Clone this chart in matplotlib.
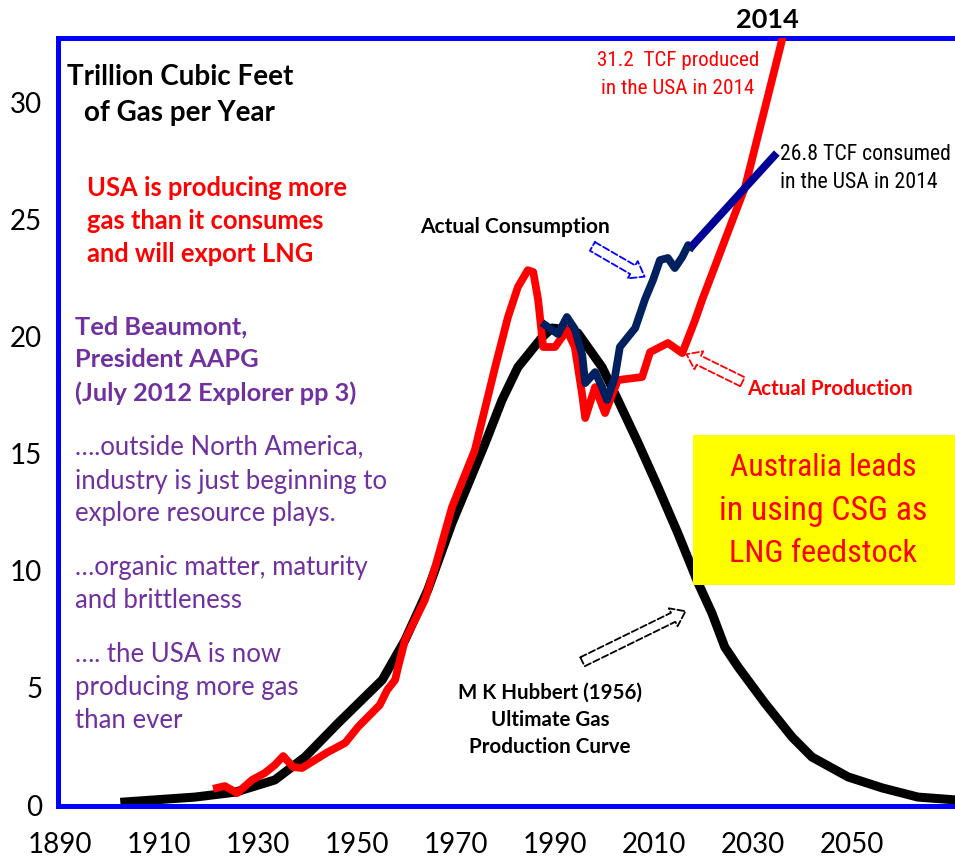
import matplotlib
matplotlib.use("Agg")
import matplotlib.pyplot as plt
from matplotlib import font_manager
from matplotlib.font_manager import FontProperties
from matplotlib.patches import FancyArrowPatch, Rectangle

# Hubbert (1956) ultimate gas production curve, TCF per year
hubbert_year = [1903.1, 1917.3, 1925.4, 1933.4, 1939.5, 1946.2, 1955.1, 1959.7, 1964.3,
                1969.2, 1975.9, 1979.3, 1982.5, 1987.4, 1989.4, 1992.0, 1994.6, 1999.5,
                2002.7, 2006.8, 2010.8, 2014.8, 2018.9, 2021.7, 2024.3, 2027.0, 2032.4,
                2037.9, 2041.9, 2049.2, 2056.1, 2063.3, 2072.0]
hubbert_tcf = [0.13, 0.34, 0.55, 1.07, 2.05, 3.50, 5.34, 7.04, 9.18,
               12.04, 15.45, 17.29, 18.69, 19.97, 20.36, 20.30, 20.15, 18.69,
               17.29, 15.45, 13.57, 11.61, 9.48, 8.19, 6.74, 5.89, 4.35,
               2.90, 2.05, 1.20, 0.73, 0.34, 0.20]

# actual production (red)
prod_year = [1921.7, 1923.3, 1925.8, 1928.8, 1931.4, 1933.4, 1935.1, 1937.1, 1938.9,
             1941.5, 1944.1, 1947.6, 1950.2, 1953.0, 1954.6, 1956.1, 1957.7, 1958.3,
             1959.7, 1963.7, 1965.8, 1969.2, 1973.8, 1977.9, 1980.5, 1982.5, 1984.5,
             1985.6, 1986.6, 1987.6, 1990.0, 1992.4, 1994.0, 1995.5, 1996.1, 1998.1,
             2000.1, 2002.7, 2007.6, 2009.2, 2012.8, 2015.7, 2018.3, 2019.7, 2028.4,
             2036.1, 2036.9]
prod_tcf = [0.73, 0.81, 0.51, 1.07, 1.37, 1.71, 2.09, 1.62, 1.58,
            1.92, 2.26, 2.65, 3.33, 3.93, 4.27, 4.91, 5.34, 5.89,
            7.04, 8.75, 10.16, 12.72, 15.15, 18.69, 20.83, 22.11, 22.83,
            22.75, 21.55, 19.55, 19.55, 20.27, 19.55, 17.50, 16.52, 17.84,
            16.73, 18.14, 18.27, 19.33, 19.72, 19.29, 20.70, 21.55, 26.38,
            32.86, 33.50]

# actual consumption (dark blue), then the straight run to 2014
cons_year = [1988.0, 1990.6, 1992.4, 1994.0, 1995.5, 1996.1, 1998.1, 1999.5, 2000.5,
             2002.1, 2003.1, 2004.7, 2006.2, 2008.2, 2009.8, 2011.2, 2012.8, 2014.2,
             2015.7, 2016.9, 2017.5]
cons_tcf = [20.49, 20.10, 20.83, 20.32, 19.21, 18.01, 18.48, 17.84, 17.29,
            18.27, 19.55, 19.97, 20.36, 21.60, 22.41, 23.26, 23.35, 22.92,
            23.39, 23.90, 23.82]
cons_trend_year = [2017.5, 2034.8]
cons_trend_tcf = [23.82, 27.83]

year_ticks = [1890, 1910, 1930, 1950, 1970, 1990, 2010, 2030, 2050]
tcf_ticks = [0, 5, 10, 15, 20, 25, 30]

W, H = 955, 856
FONT = ['Lato', 'DejaVu Sans']
PURPLE = '#7030A0'


def pick_narrow():
    # Arial Narrow look-alike, whatever condensed face is installed
    regular = [f for f in font_manager.fontManager.ttflist
               if f.style == 'normal' and f.weight in (400, 'normal', 'regular')]
    for name in ['Liberation Sans Narrow', 'Roboto Condensed', 'Open Sans Condensed']:
        for f in regular:
            if f.name == name:
                return FontProperties(fname=f.fname)
    for f in regular:
        if 'condensed' in f.stretch or 'Condensed' in f.fname or 'Narrow' in f.fname:
            return FontProperties(fname=f.fname)
    return FontProperties(family='Liberation Sans')


def ftxt(fig, x, y, s, **kw):
    # place text by pixel position on the slide
    kw.setdefault('va', 'center')
    if 'fontproperties' not in kw:
        kw.setdefault('family', FONT)
    return fig.text(x / W, 1 - y / H, s, **kw)


def narrow_txt(fig, x, y, s, width, fp, **kw):
    # narrow text, sized so that it spans the given pixel width
    t = ftxt(fig, x, y, s, fontproperties=fp.copy(), **kw)
    t.set_fontsize(20)
    r = fig.canvas.get_renderer()
    t.set_fontsize(20 * width / t.get_window_extent(r).width)
    return t


def hollow_arrow(fig, x0, y0, x1, y1, color):
    arr = FancyArrowPatch((x0 / W, 1 - y0 / H), (x1 / W, 1 - y1 / H),
                          transform=fig.transFigure,
                          arrowstyle='simple,head_length=1.1,head_width=1.6,tail_width=0.8',
                          mutation_scale=9, fc='none', ec=color, ls='--', lw=1.3)
    fig.add_artist(arr)


def main():
    fig = plt.figure(figsize=(W / 100, H / 100), dpi=100)
    ax = fig.add_axes([57.5 / W, 1 - 805.5 / H, 1 - 57.5 / W, (805.5 - 38) / H])

    ax.plot(hubbert_year, hubbert_tcf, color='black', lw=6.5, solid_joinstyle='round', zorder=2)
    ax.plot(prod_year, prod_tcf, color='#FF0000', lw=5.6, solid_joinstyle='round', zorder=3)
    ax.plot(cons_year, cons_tcf, color='#002060', lw=5.6, solid_joinstyle='round', zorder=4)
    ax.plot(cons_trend_year, cons_trend_tcf, color='#000099', lw=5.6, solid_capstyle='butt', zorder=4)

    ax.set_xlim(1889.5, 2070.8)
    ax.set_ylim(-0.02, 32.74)
    ax.set_xticks(year_ticks)
    ax.set_yticks(tcf_ticks)
    ax.tick_params(length=0, labelsize=20)
    ax.tick_params(axis='x', pad=19)
    ax.tick_params(axis='y', pad=11)
    for lab in ax.get_xticklabels() + ax.get_yticklabels():
        lab.set_family(FONT)

    for side in ['top', 'left', 'bottom']:
        ax.spines[side].set_color('#0000FF')
        ax.spines[side].set_linewidth(3.6)
    ax.spines['right'].set_visible(False)

    # axis caption
    ftxt(fig, 67, 77, "Trillion Cubic Feet", fontsize=20, weight='bold')
    ftxt(fig, 84, 113, "of Gas per Year", fontsize=20, weight='bold')

    for i, line in enumerate(["USA is producing more", "gas than it consumes", "and will export LNG"]):
        ftxt(fig, 87, 188 + 33 * i, line, fontsize=18.4, weight='bold', color='#FF0000')

    for i, line in enumerate(["Ted Beaumont,", "President AAPG", "(July 2012 Explorer pp 3)"]):
        ftxt(fig, 75, 327 + 33 * i, line, fontsize=18.3, weight='bold', color=PURPLE)

    quote = [("\u2026.outside North America,", 447), ("industry is just beginning to", 481),
             ("explore resource plays.", 514), ("\u2026organic matter, maturity", 568),
             ("and brittleness", 601), ("\u2026. the USA is now", 655),
             ("producing more gas", 688), ("than ever", 721)]
    for line, y in quote:
        ftxt(fig, 75, y, line, fontsize=18.5, color=PURPLE)

    ftxt(fig, 420, 227, "Actual Consumption", fontsize=15, weight='bold')
    ftxt(fig, 747, 389, "Actual Production", fontsize=14.8, weight='bold', color='#FF0000')
    for i, line in enumerate(["M K Hubbert (1956)", "Ultimate Gas", "Production Curve"]):
        ftxt(fig, 550, 693 + 27 * i, line, fontsize=14.8, weight='bold', ha='center')
    ftxt(fig, 767, 20, "2014", fontsize=19.5, weight='bold', ha='center')

    fp = pick_narrow()
    narrow_txt(fig, 678, 61, "31.2  TCF produced", 162, fp, color='#FF0000', ha='center')
    narrow_txt(fig, 678, 88, "in the USA in 2014", 153, fp, color='#FF0000', ha='center')
    narrow_txt(fig, 780, 155, "26.8 TCF consumed", 172, fp)
    narrow_txt(fig, 780, 182, "in the USA in 2014", 158, fp)

    # yellow call-out box
    fig.add_artist(Rectangle((693 / W, 1 - 585 / H), 262 / W, 150 / H,
                             transform=fig.transFigure, fc='#FFFF00', ec='none', zorder=2))
    for (line, wd), y in zip([("Australia leads", 187), ("in using CSG as", 208),
                              ("LNG feedstock", 188)], [468, 511, 553]):
        narrow_txt(fig, 823, y, line, wd, fp, color='#FF0000', ha='center', zorder=3)

    hollow_arrow(fig, 590, 245, 647, 278, '#0000FF')
    hollow_arrow(fig, 745, 383, 684, 353, '#FF0000')
    hollow_arrow(fig, 580, 663, 688, 610, 'black')

    fig.savefig("out.png", dpi=100)


if __name__ == "__main__":
    main()
